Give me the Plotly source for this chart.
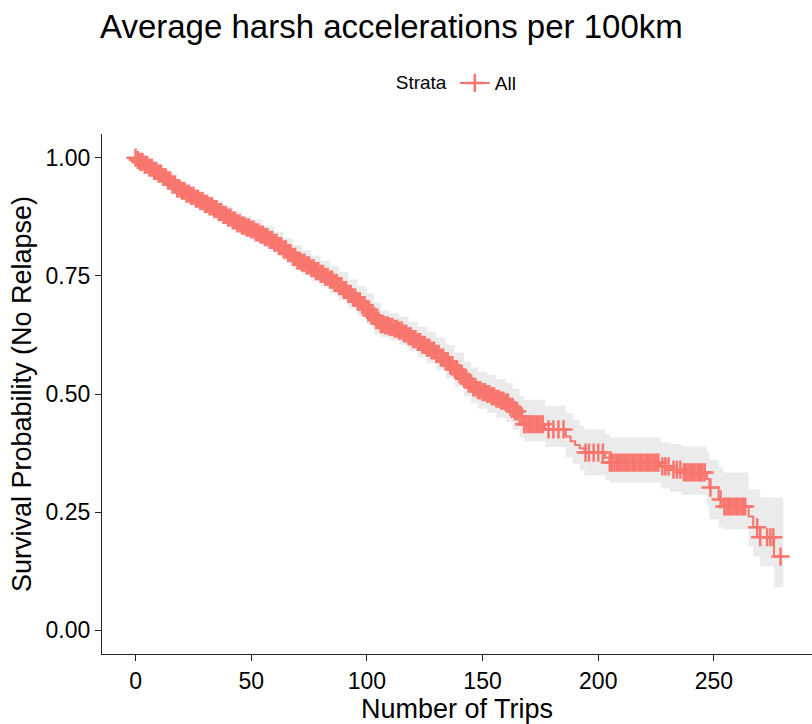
import numpy as np
import plotly.graph_objects as go

# Kaplan-Meier estimate: step times and survival
km_time = [0, 1, 2, 4, 6, 8, 10, 12, 14, 16, 18, 20, 22, 24, 26, 28, 30, 32, 34, 36,
           38, 40, 42, 44, 46, 48, 50, 52, 54, 56, 58, 60, 62, 64, 66, 68, 70, 72, 74,
           76, 78, 80, 82, 84, 86, 88, 90, 92, 94, 96, 98, 100, 102, 104, 106, 108,
           110, 112, 114, 116, 118, 120, 122, 124, 126, 128, 130, 132, 134, 136, 138,
           140, 142, 144, 146, 148, 150, 152, 154, 156, 158, 160, 162, 164, 166, 168,
           177, 186, 188, 190, 192, 194, 203, 205, 227, 231, 236, 247, 248, 252, 254,
           265, 267, 270, 276]
km_surv = [1.000, 0.995, 0.991, 0.985, 0.979, 0.972, 0.966, 0.959, 0.952, 0.943, 0.935,
           0.930, 0.924, 0.919, 0.913, 0.908, 0.902, 0.897, 0.891, 0.885, 0.879, 0.873,
           0.867, 0.861, 0.856, 0.852, 0.848, 0.842, 0.837, 0.832, 0.826, 0.820, 0.813,
           0.806, 0.798, 0.790, 0.782, 0.778, 0.772, 0.766, 0.760, 0.754, 0.748, 0.742,
           0.735, 0.728, 0.720, 0.712, 0.704, 0.696, 0.688, 0.678, 0.666, 0.656, 0.648,
           0.645, 0.642, 0.638, 0.634, 0.628, 0.622, 0.616, 0.610, 0.604, 0.598, 0.592,
           0.585, 0.577, 0.569, 0.561, 0.552, 0.542, 0.532, 0.522, 0.514, 0.508, 0.504,
           0.500, 0.495, 0.490, 0.486, 0.482, 0.473, 0.463, 0.452, 0.436, 0.425, 0.410,
           0.400, 0.392, 0.385, 0.376, 0.365, 0.355, 0.347, 0.340, 0.334, 0.320, 0.302,
           0.277, 0.262, 0.241, 0.218, 0.197, 0.156]
last_time = 280

# 95% confidence limits
ci_time = [0, 1, 2, 5, 8, 11, 14, 18, 22, 26, 30, 34, 38, 42, 46, 50, 55, 60, 64, 68,
           72, 76, 80, 84, 88, 92, 96, 100, 103, 106, 110, 114, 118, 122, 126, 130,
           134, 138, 142, 145, 148, 152, 156, 160, 163, 166, 168, 177, 186, 189, 192,
           194, 203, 205, 227, 231, 236, 247, 248, 252, 254, 265, 267, 270, 276]
ci_lower = [1.000, 0.989, 0.983, 0.973, 0.961, 0.950, 0.939, 0.921, 0.909, 0.897, 0.885,
            0.873, 0.861, 0.848, 0.836, 0.827, 0.812, 0.797, 0.782, 0.765, 0.752, 0.739,
            0.726, 0.713, 0.698, 0.681, 0.664, 0.647, 0.626, 0.620, 0.613, 0.604, 0.591,
            0.578, 0.565, 0.551, 0.534, 0.516, 0.495, 0.480, 0.469, 0.460, 0.449, 0.440,
            0.425, 0.408, 0.400, 0.388, 0.366, 0.352, 0.340, 0.328, 0.318, 0.313, 0.300,
            0.293, 0.287, 0.262, 0.235, 0.218, 0.214, 0.178, 0.156, 0.135, 0.091]
ci_upper = [1.000, 0.999, 0.997, 0.991, 0.983, 0.974, 0.965, 0.949, 0.939, 0.929, 0.919,
            0.909, 0.897, 0.886, 0.876, 0.869, 0.856, 0.843, 0.830, 0.815, 0.804, 0.793,
            0.782, 0.771, 0.758, 0.743, 0.728, 0.713, 0.694, 0.676, 0.671, 0.664, 0.653,
            0.642, 0.631, 0.619, 0.604, 0.588, 0.569, 0.556, 0.547, 0.540, 0.531, 0.524,
            0.511, 0.496, 0.488, 0.475, 0.460, 0.445, 0.433, 0.425, 0.416, 0.408, 0.397,
            0.394, 0.389, 0.376, 0.360, 0.345, 0.334, 0.298, 0.298, 0.281, 0.281]

# Censored observations (number of trips at censoring)
censor_time = [0, 1, 2, 3, 4, 5, 6, 7, 8, 9, 10, 11, 12, 13, 14, 15, 16, 17, 18, 19,
               20, 21, 22, 23, 24, 25, 26, 27, 28, 29, 30, 31, 32, 33, 34, 35, 36, 37,
               38, 39, 40, 41, 42, 43, 44, 45, 46, 47, 48, 49, 50, 51, 52, 53, 54, 55,
               56, 57, 58, 59, 60, 61, 62, 63, 64, 65, 66, 67, 68, 69, 70, 71, 72, 73,
               74, 75, 76, 77, 78, 79, 80, 81, 82, 83, 84, 85, 86, 87, 88, 89, 90, 91,
               92, 93, 94, 95, 96, 97, 98, 99, 100, 101, 102, 103, 104, 105, 106, 107,
               108, 109, 110, 111, 112, 113, 114, 115, 116, 117, 118, 119, 120, 121,
               122, 123, 124, 125, 126, 127, 128, 129, 130, 131, 132, 133, 134, 135,
               136, 137, 138, 139, 140, 141, 142, 143, 144, 145, 146, 147, 148, 149,
               150, 151, 152, 153, 154, 155, 156, 157, 158, 159, 160, 161, 162, 163,
               164, 165, 166, 167, 168, 169, 170, 171, 172, 173, 174, 175, 176,
               178.5, 180.6, 182.8, 185, 194.5, 196, 198, 200, 202,
               205, 206, 207, 208, 209, 210, 211, 212, 213, 214, 215, 216, 217, 218,
               219, 220, 221, 222, 223, 224, 225, 226, 227.7, 229, 230.4, 232.5, 234,
               235.5, 237, 238, 239, 240, 241, 242, 243, 244, 245, 246, 248.5, 252.9,
               254.5, 255.5, 256.5, 257.5, 258.5, 259.5, 260.5, 261.5, 262.5, 263.5,
               268.7, 270, 273, 274.4, 275.7, 278.8]

RED = "#F8766D"
FONT = "Liberation Sans, Arial, sans-serif"

step_t = np.array(km_time + [last_time], dtype=float)
step_s = np.array(km_surv + [km_surv[-1]])
band_t = np.array(ci_time + [last_time], dtype=float)
band_lo = np.array(ci_lower + [ci_lower[-1]])
band_hi = np.array(ci_upper + [ci_upper[-1]])

# survival value in effect at each censoring time
idx = np.searchsorted(np.array(km_time, dtype=float), np.array(censor_time), side="right") - 1
censor_surv = np.array(km_surv)[idx]

fig = go.Figure()

# confidence band as a stepped ribbon
fig.add_trace(go.Scatter(x=band_t, y=band_hi, mode="lines", line=dict(width=0, shape="hv"),
                         hoverinfo="skip", showlegend=False))
fig.add_trace(go.Scatter(x=band_t, y=band_lo, mode="lines", line=dict(width=0, shape="hv"),
                         fill="tonexty", fillcolor="#EBEBEB", hoverinfo="skip",
                         showlegend=False))

# survival curve
fig.add_trace(go.Scatter(x=step_t, y=step_s, mode="lines",
                         line=dict(color=RED, width=2, shape="hv"), showlegend=False))

# censoring marks
fig.add_trace(go.Scatter(x=censor_time, y=censor_surv, mode="markers",
                         marker=dict(symbol="cross-thin", size=13,
                                     line=dict(color=RED, width=2.5)),
                         showlegend=False))

# legend entry
fig.add_trace(go.Scatter(x=[None], y=[None], mode="lines+markers", name="All",
                         line=dict(color=RED, width=2),
                         marker=dict(symbol="cross-thin", size=13,
                                     line=dict(color=RED, width=2.5))))

axis_common = dict(showgrid=False, zeroline=False, showline=True, linecolor="#222222",
                   linewidth=1.2, ticks="outside", ticklen=6, tickwidth=1.1,
                   tickcolor="#222222", tickfont=dict(family=FONT, size=23, color="black"))

fig.update_layout(
    width=812, height=724,
    margin=dict(l=102, r=0, t=134, b=70),
    paper_bgcolor="white", plot_bgcolor="white",
    font=dict(family=FONT, color="black"),
    title=dict(text="Average harsh accelerations per 100km", xref="container",
               x=100 / 812, xanchor="left", yref="container", y=1 - 26 / 724,
               yanchor="middle", font=dict(family=FONT, size=33, color="black")),
    legend=dict(orientation="h", x=0.501, xanchor="center", y=1.098, yanchor="middle",
                title=dict(text="Strata", font=dict(size=19)), font=dict(size=19),
                bgcolor="rgba(0,0,0,0)"),
    xaxis=dict(range=[-14.5, 292.4], tickvals=[0, 50, 100, 150, 200, 250],
               title=dict(text="Number of Trips", font=dict(family=FONT, size=27),
                          standoff=8),
               **axis_common),
    yaxis=dict(range=[-0.05, 1.05], tickvals=[0, 0.25, 0.5, 0.75, 1.0],
               ticktext=["0.00", "0.25", "0.50", "0.75", "1.00"],
               title=dict(text="Survival Probability (No Relapse)",
                          font=dict(family=FONT, size=27), standoff=6),
               **axis_common),
)

fig.write_html("out.html")
